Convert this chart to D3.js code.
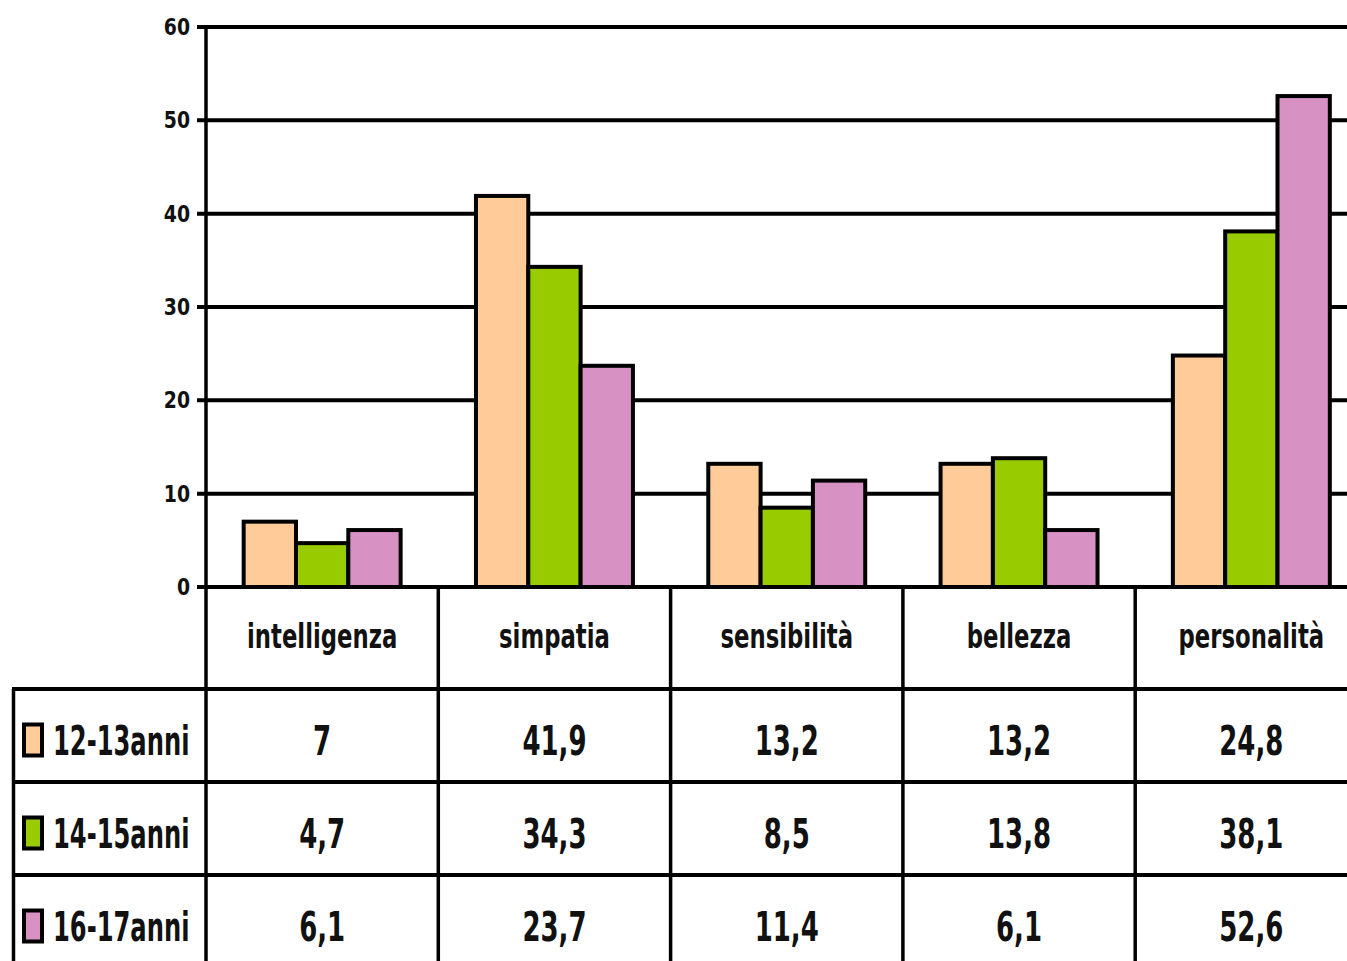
<!DOCTYPE html>
<html><head><meta charset="utf-8">
<script src="https://cdn.jsdelivr.net/npm/d3@7"></script>
<style>html,body{margin:0;padding:0;background:#fff;overflow:hidden}svg{display:block}text{font-family:"DejaVu Sans",sans-serif;font-weight:bold;fill:#111}</style>
</head><body><svg id="c" width="1347" height="961"></svg>
<script>
const categories = ["intelligenza","simpatia","sensibilità","bellezza","personalità"];
const seriesNames = ["12-13anni","14-15anni","16-17anni"];
const s1 = [7, 41.9, 13.2, 13.2, 24.8];
const s2 = [4.7, 34.3, 8.5, 13.8, 38.1];
const s3 = [6.1, 23.7, 11.4, 6.1, 52.6];
const colors = ["#FFCC99","#99CC00","#D891C3"];
const yTicks = [0,10,20,30,40,50,60];
const fmt = v => String(v).replace(".", ",");

(function(){
const series = [s1,s2,s3];
const svg = d3.select("#c");
const W = 1347, H = 961;
const plotLeft = 206, plotTop = 27, base = 587;
const step = 232.3;
const x0 = d3.scaleBand().domain(categories).range([plotLeft, plotLeft + step*categories.length]).padding(0);
const x1 = d3.scaleBand().domain(seriesNames).range([0, x0.bandwidth()]).paddingInner(0).paddingOuter(0.72);
const y = d3.scaleLinear().domain([0,60]).range([base, plotTop]);

svg.append("g").selectAll("line").data(yTicks).join("line")
  .attr("x1", plotLeft-9).attr("x2", W).attr("y1", d=>y(d)).attr("y2", d=>y(d))
  .attr("stroke","#000").attr("stroke-width",4);
svg.append("g").selectAll("text").data(yTicks).join("text")
  .attr("transform", d=>`translate(190,${y(d)}) scale(0.82,1)`).attr("dy","0.35em").attr("text-anchor","end")
  .attr("font-size",23).text(d=>d);

const g = svg.append("g").selectAll("g").data(categories).join("g")
  .attr("transform", d=>`translate(${x0(d)},0)`);
g.selectAll("rect").data((c,i)=>series.map((s,j)=>({k:seriesNames[j], v:s[i], j})))
  .join("rect")
  .attr("x", d=>x1(d.k)).attr("width", x1.bandwidth())
  .attr("y", d=>y(d.v)).attr("height", d=>base - y(d.v))
  .attr("fill", d=>colors[d.j]).attr("stroke","#000").attr("stroke-width",4);

const rowLines = [689, 782, 875];
const rowBottom = 968;
svg.append("line").attr("x1",plotLeft).attr("x2",plotLeft).attr("y1",plotTop-1).attr("y2",H).attr("stroke","#000").attr("stroke-width",3.5);
svg.append("line").attr("x1",plotLeft-9).attr("x2",W).attr("y1",base).attr("y2",base).attr("stroke","#000").attr("stroke-width",4);
svg.append("g").selectAll("line").data(categories.slice(1)).join("line")
  .attr("x1", d=>x0(d)).attr("x2", d=>x0(d)).attr("y1", base).attr("y2", H)
  .attr("stroke","#000").attr("stroke-width",3.5);
svg.append("g").selectAll("line").data(rowLines).join("line")
  .attr("x1", 12).attr("x2", W).attr("y1", d=>d).attr("y2", d=>d)
  .attr("stroke","#000").attr("stroke-width",4);
svg.append("line").attr("x1",13.5).attr("x2",13.5).attr("y1",rowLines[0]).attr("y2",H).attr("stroke","#000").attr("stroke-width",3.5);

svg.append("g").selectAll("text").data(categories).join("text")
  .attr("transform", d=>`translate(${x0(d)+x0.bandwidth()/2},${(base+rowLines[0])/2}) scale(0.67,1)`).attr("dy","0.3em")
  .attr("text-anchor","middle").attr("font-size",34).text(d=>d);

const rowTops = [rowLines[0], rowLines[1], rowLines[2]];
const rowBots = [rowLines[1], rowLines[2], rowBottom];
series.forEach((s,j)=>{
  const cy = (rowTops[j]+rowBots[j])/2 + 5;
  svg.append("rect").attr("x",24).attr("y",cy-16).attr("width",18).attr("height",31)
    .attr("fill",colors[j]).attr("stroke","#000").attr("stroke-width",4);
  svg.append("text").attr("transform",`translate(53,${cy}) scale(0.605,1)`).attr("dy","0.36em").attr("font-size",40).text(seriesNames[j]);
  svg.append("g").selectAll("text").data(categories).join("text")
    .attr("transform", d=>`translate(${x0(d)+x0.bandwidth()/2},${cy}) scale(0.65,1)`).attr("dy","0.36em")
    .attr("text-anchor","middle").attr("font-size",40).text((d,i)=>fmt(s[i]));
});
})();
</script></body></html>
